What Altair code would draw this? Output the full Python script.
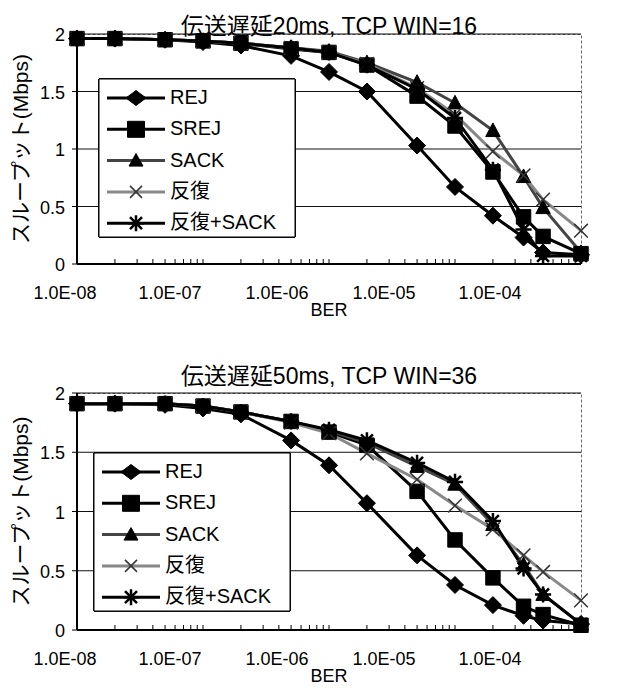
import altair as alt
import pandas as pd

FONT = "Liberation Sans, Noto Sans CJK JP, sans-serif"

# ---------------- data ----------------
ber = [1e-8, 2e-8, 5e-8, 1e-7, 2e-7, 5e-7, 1e-6, 2e-6, 5e-6, 1e-5, 2e-5, 3.5e-5, 5e-5, 1e-4]
series = ["REJ", "SREJ", "SACK", "反復", "反復+SACK"]

top_rej = [1.96, 1.96, 1.95, 1.93, 1.90, 1.81, 1.67, 1.50, 1.03, 0.67, 0.42, 0.23, 0.10, 0.08]
top_srej = [1.96, 1.96, 1.95, 1.94, 1.92, 1.87, 1.84, 1.73, 1.46, 1.20, 0.80, 0.41, 0.24, 0.09]
top_sack = [1.96, 1.96, 1.95, 1.94, 1.92, 1.88, 1.85, 1.75, 1.58, 1.40, 1.16, 0.76, 0.49, 0.10]
top_rep = [1.96, 1.96, 1.95, 1.94, 1.92, 1.88, 1.84, 1.74, 1.53, 1.30, 0.98, 0.77, 0.56, 0.29]
top_repsack = [1.96, 1.96, 1.95, 1.94, 1.92, 1.88, 1.84, 1.73, 1.52, 1.27, 0.82, 0.30, 0.07, 0.07]

bot_rej = [1.91, 1.91, 1.90, 1.87, 1.82, 1.60, 1.39, 1.07, 0.63, 0.38, 0.21, 0.12, 0.08, 0.05]
bot_srej = [1.91, 1.91, 1.91, 1.89, 1.84, 1.76, 1.67, 1.56, 1.17, 0.76, 0.44, 0.20, 0.13, 0.04]
bot_sack = [1.91, 1.91, 1.91, 1.89, 1.84, 1.76, 1.68, 1.58, 1.38, 1.23, 0.89, 0.55, 0.30, 0.05]
bot_rep = [1.91, 1.91, 1.91, 1.89, 1.84, 1.75, 1.66, 1.49, 1.27, 1.05, 0.85, 0.63, 0.49, 0.25]
bot_repsack = [1.91, 1.91, 1.91, 1.89, 1.84, 1.76, 1.69, 1.60, 1.41, 1.25, 0.92, 0.52, 0.30, 0.05]

xlabel_values = [1e-8, 1e-7, 1e-6, 1e-5, 1e-4]
xlabels = ["1.0E-08", "1.0E-07", "1.0E-06", "1.0E-05", "1.0E-04"]
ytick_values = [0, 0.5, 1, 1.5, 2]
ylabels = ["0", "0.5", "1", "1.5", "2"]
ygrid_values = [0.5, 1, 1.5, 2]
minor_ticks = [m * 10.0 ** e for e in range(-8, -4) for m in range(1, 10)] + [1e-4]

titles = ["伝送遅延20ms, TCP WIN=16", "伝送遅延50ms, TCP WIN=36"]
x_title = "BER"
y_title = "スループット(Mbps)"

# ---------------- styles ----------------
line_colors = ["black", "black", "#444444", "#888888", "black"]
line_widths = [3, 3, 2, 1.2, 3]

marker_paths = [
    "M0,-1L1,0L0,1L-1,0Z",
    "M-0.85,-0.85H0.85V0.85H-0.85Z",
    "M0,-0.9L0.85,0.7H-0.85Z",
    "M-0.8,-0.8L0.8,0.8M-0.8,0.8L0.8,-0.8",
    "M-0.95,0H0.95M0,-0.95V0.95M-0.7,-0.7L0.7,0.7M-0.7,0.7L0.7,-0.7",
]
legend_marker_paths = [
    "M0,-0.75L1,0L0,0.75L-1,0Z",
    "M-0.85,-0.8H0.85V0.8H-0.85Z",
    "M0,-0.7L0.7,0.55H-0.7Z",
    "M-0.6,-0.6L0.6,0.6M-0.6,0.6L0.6,-0.6",
    "M-0.8,0H0.8M0,-0.8V0.8M-0.6,-0.6L0.6,0.6M-0.6,0.6L0.6,-0.6",
]
marker_stroke = ["black", "black", "black", "#333333", "black"]
marker_sw = [1, 1, 1, 1.5, 2.5]

# horizontal shift of each printed x tick label (as in the scanned original)
label_shift = [-12, -33, -52, -71, -91]

W = 504


def panel(values, title, height, lx, ly, toff):
    rows = []
    for s, vals in zip(series, values):
        for b, v in zip(ber, vals):
            rows.append({"BER": b, "thr": v, "series": s})
    df = pd.DataFrame(rows)

    xscale = alt.Scale(type="log", domain=[1e-8, 1e-4], nice=False)
    yscale = alt.Scale(domain=[0, 2], nice=False)
    x_enc = alt.X("BER:Q", scale=xscale, axis=None)
    y_enc = alt.Y("thr:Q", scale=yscale, axis=None)
    yv_enc = alt.Y("v:Q", scale=yscale, axis=None)
    color_enc = alt.Color("series:N", scale=alt.Scale(domain=series, range=line_colors), legend=None)
    sw_enc = alt.StrokeWidth("series:O", scale=alt.Scale(domain=series, range=line_widths), legend=None)

    layers = []

    # ---- grid, axis lines, ticks ----
    grid_df = pd.DataFrame({"v": ygrid_values})
    layers.append(alt.Chart(grid_df).mark_rule(color="#111111", strokeWidth=1).encode(
        y=yv_enc, x=alt.value(0), x2=alt.value(W)))
    ytick_df = pd.DataFrame({"v": ytick_values, "label": ylabels})
    layers.append(alt.Chart(ytick_df).mark_rule(color="black", strokeWidth=1).encode(
        y=yv_enc, x=alt.value(-5), x2=alt.value(0)))
    layers.append(alt.Chart(ytick_df).mark_rule(color="black", strokeWidth=1.5).encode(
        x=alt.value(0), y=alt.value(0), y2=alt.value(height)))
    layers.append(alt.Chart(ytick_df).mark_rule(color="black", strokeWidth=1.5).encode(
        x=alt.value(0), x2=alt.value(W), y=alt.value(height)))
    tick_df = pd.DataFrame({"BER": minor_ticks})
    layers.append(alt.Chart(tick_df).mark_rule(color="black", strokeWidth=1).encode(
        x=x_enc, y=alt.value(height - 5), y2=alt.value(height)))

    # ---- tick labels and axis titles ----
    layers.append(alt.Chart(ytick_df).mark_text(
        align="right", baseline="middle", fontSize=18, font=FONT, color="black", dy=2
    ).encode(y=yv_enc, x=alt.value(-12), text="label:N"))
    for v, t, sh in zip(xlabel_values, xlabels, label_shift):
        ldf = pd.DataFrame({"BER": [v], "label": [t]})
        layers.append(alt.Chart(ldf).mark_text(
            align="center", baseline="middle", fontSize=18, font=FONT, color="black", dx=sh
        ).encode(x=x_enc, y=alt.value(height + 30), text="label:N"))
    tdf = pd.DataFrame({"xt": [x_title], "yt": [y_title]})
    layers.append(alt.Chart(tdf).mark_text(
        align="center", baseline="middle", fontSize=18, font=FONT, color="black"
    ).encode(x=alt.value(W / 2), y=alt.value(height + 47), text="xt:N"))
    layers.append(alt.Chart(tdf).mark_text(
        align="center", baseline="middle", fontSize=21, font=FONT, color="black", angle=270
    ).encode(x=alt.value(-55), y=alt.value(height / 2), text="yt:N"))

    # ---- data ----
    layers.append(alt.Chart(df).mark_line().encode(x=x_enc, y=y_enc, color=color_enc, strokeWidth=sw_enc))
    for s, path, stc, sw in zip(series, marker_paths, marker_stroke, marker_sw):
        layers.append(
            alt.Chart(df).transform_filter(alt.datum.series == s)
            .mark_point(shape=path, filled=True, size=289, fill="black", stroke=stc,
                        strokeWidth=sw, opacity=1)
            .encode(x=x_enc, y=y_enc)
        )

    # ---- legend box (inside the plot, as in the original) ----
    box_w, box_h, pitch, first = 196, 158, 31.3, 19
    leg_df = pd.DataFrame({"series": series, "row": list(range(len(series)))})
    leg_base = alt.Chart(leg_df).transform_calculate(py=f"{ly + first} + datum.row * {pitch}")
    ypix = alt.Y("py:Q", scale=None, axis=None)

    layers.append(alt.Chart(leg_df).mark_rect(fill="white", stroke="black", strokeWidth=1).encode(
        x=alt.value(lx), x2=alt.value(lx + box_w), y=alt.value(ly), y2=alt.value(ly + box_h)))
    layers.append(leg_base.mark_rule().encode(
        x=alt.value(lx + 8), x2=alt.value(lx + 66), y=ypix, color=color_enc, strokeWidth=sw_enc))
    for s, path, stc, sw in zip(series, legend_marker_paths, marker_stroke, marker_sw):
        layers.append(
            leg_base.transform_filter(alt.datum.series == s)
            .mark_point(shape=path, filled=True, size=400, fill="black", stroke=stc,
                        strokeWidth=sw, opacity=1)
            .encode(x=alt.value(lx + 37), y=ypix)
        )
    layers.append(leg_base.mark_text(align="left", baseline="middle", fontSize=20, font=FONT,
                                     color="black").encode(x=alt.value(lx + 71), y=ypix, text="series:N"))

    return alt.layer(*layers).properties(
        width=W, height=height,
        title=alt.TitleParams(title, fontSize=23, font=FONT, fontWeight="normal",
                              offset=toff, anchor="middle", color="black"),
    )


top = panel([top_rej, top_srej, top_sack, top_rep, top_repsack], titles[0], 230, 22, 45, -13)
bottom = panel([bot_rej, bot_srej, bot_sack, bot_rep, bot_repsack], titles[1], 237, 17, 60, -3)

chart = (
    alt.vconcat(top, bottom, spacing=44)
    .resolve_scale(color="independent", strokeWidth="independent")
    .properties(padding={"left": 2, "top": 7, "right": 5, "bottom": 0})
    .configure(font=FONT)
    .configure_view(stroke="#666666", strokeWidth=1, strokeDash=[3, 2])
)

chart.save("out.html", embed_options={"renderer": "svg", "actions": False})
